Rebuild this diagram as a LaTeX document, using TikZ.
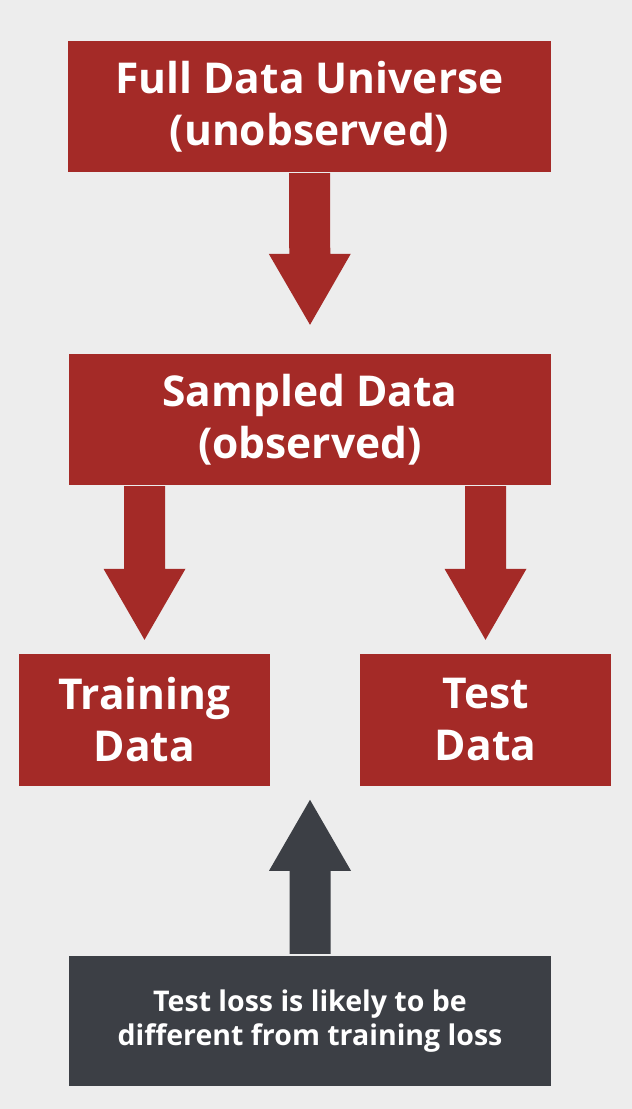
\documentclass[tikz,border=0pt]{standalone}
\usepackage{fontspec}
\setmainfont{Open Sans}
\usetikzlibrary{calc}
\definecolor{bg}{HTML}{EDEDED}
\definecolor{boxred}{HTML}{A42A27}
\definecolor{boxdark}{HTML}{3C3F45}
\tikzset{
  redbox/.style={fill=boxred, text=white, font=\bfseries\fontsize{42.5}{52}\selectfont,
    align=center, inner sep=0pt, minimum height=131pt},
  darkbox/.style={fill=boxdark, text=white, font=\bfseries\fontsize{28.5}{34}\selectfont,
    align=center, inner sep=0pt, minimum height=130pt, minimum width=482pt},
}
% #1 start of shaft, #2 tip, #3 colour
\newcommand\blockarrow[3]{%
  \fill[#3] ($(#1)+(-20.5,0)$) -- ($(#2)!71pt!(#1)+(-20.5,0)$) -- ($(#2)!71pt!(#1)+(-41,0)$)
    -- (#2) -- ($(#2)!71pt!(#1)+(41,0)$) -- ($(#2)!71pt!(#1)+(20.5,0)$) -- ($(#1)+(20.5,0)$) -- cycle;}
\begin{document}
\begin{tikzpicture}[x=1pt,y=-1pt]
\fill[bg] (0,0) rectangle (632,1109);
\useasboundingbox (0,0) rectangle (632,1109);
\node[redbox, minimum width=483pt] (full) at (309.5,106.5) {Full Data Universe\\(unobserved)};
\node[redbox, minimum width=482pt] (sampled) at (310,419.5) {Sampled Data\\(observed)};
\node[redbox, minimum width=251pt, minimum height=132pt] (train) at (144.5,720) {Training\\Data};
\node[redbox, minimum width=251pt, minimum height=132pt] (test) at (485.5,720) {Test\\Data};
\node[darkbox] (note) at (310,1021) {Test loss is likely to be\\different from training loss};
\coordinate (s1) at ($(full.south)+(0,1)$);
\coordinate (t1) at ($(sampled.north)+(0,-29)$);
\coordinate (s2) at ($(train.north |- sampled.south)+(0,1)$);
\coordinate (t2) at ($(train.north)+(0,-14)$);
\coordinate (s3) at ($(test.north |- sampled.south)+(0,1)$);
\coordinate (t3) at ($(test.north)+(0,-14)$);
\coordinate (s4) at ($(note.north)+(0,-2)$);
\coordinate (t4) at ($(note.north)+(0,-156)$);
\blockarrow{s1}{t1}{boxred}
\blockarrow{s2}{t2}{boxred}
\blockarrow{s3}{t3}{boxred}
\blockarrow{s4}{t4}{boxdark}
\end{tikzpicture}
\end{document}
